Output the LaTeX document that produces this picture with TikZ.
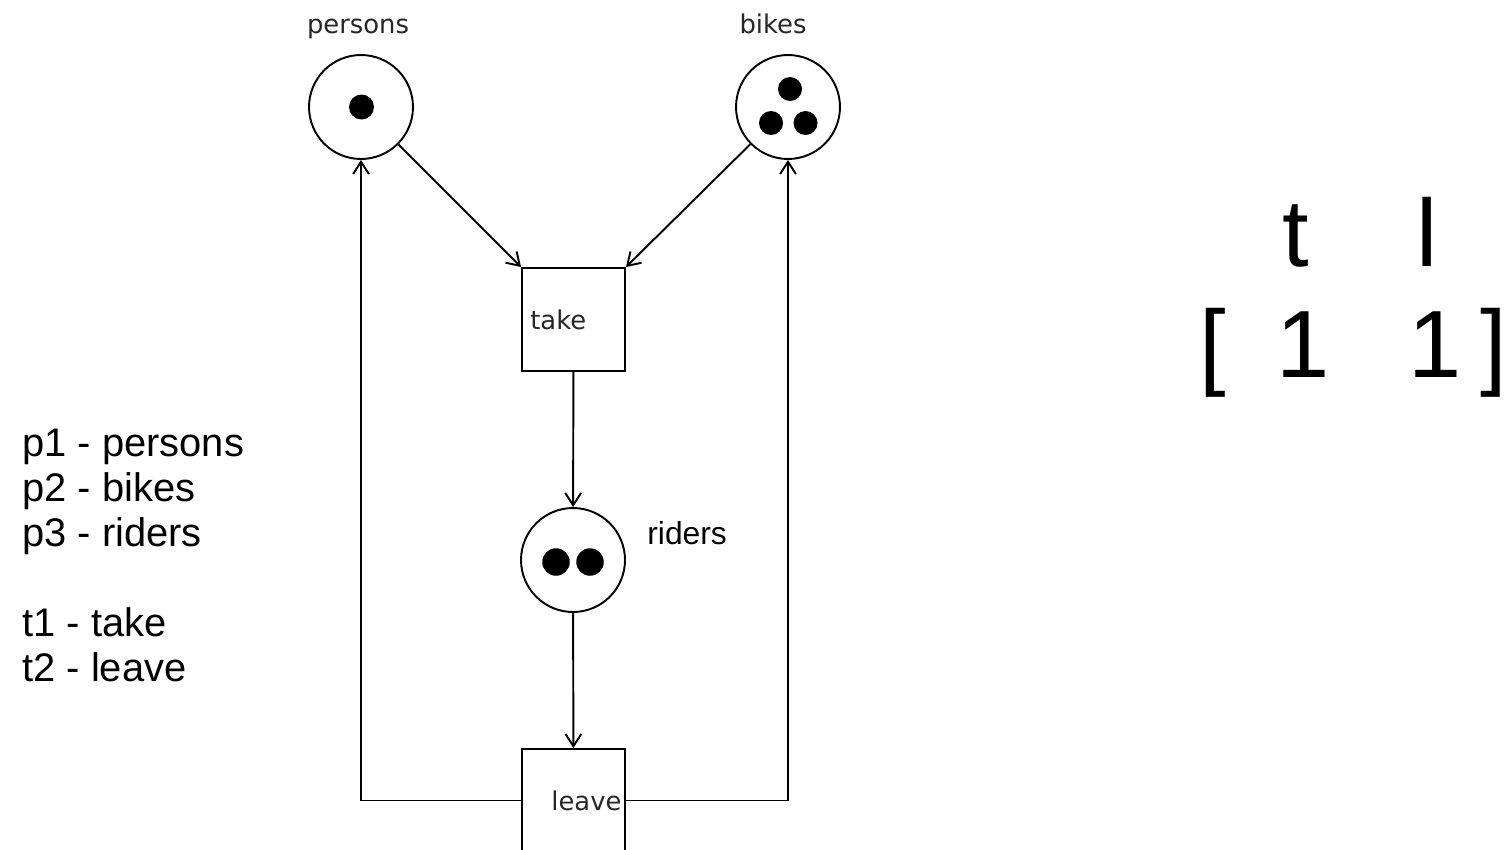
\documentclass[tikz,border=0pt]{standalone}
\usepackage{fontspec}
\setmainfont{Liberation Sans}
\newfontfamily\netfont{DejaVu Sans}
\usepackage{tikz}
\usetikzlibrary{positioning,arrows.meta,shapes.geometric}

\begin{document}
\begin{tikzpicture}[
  x=0.02cm, y=-0.02cm,
  place/.style={circle, draw, line width=1.1pt, minimum size=2.08cm, inner sep=0},
  trans/.style={rectangle, draw, line width=1.1pt, minimum width=2.06cm, minimum height=2.06cm, inner sep=0},
  token/.style={circle, fill=black, inner sep=0, minimum size=0.5cm},
  netlbl/.style={font=\netfont\fontsize{14.7}{16}\selectfont, text=black!85, inner sep=0},
  legend/.style={font=\fontsize{22.7}{25.5}\selectfont, anchor=base west, inner sep=0},
  vec/.style={font=\fontsize{54.4}{60}\selectfont, anchor=base, inner sep=0},
  arrow/.style={-{Straight Barb[length=7pt,width=9pt]}, line width=1.1pt}
]
\clip (0,0) rectangle (1507,849);

% places
\node[place] (persons) at (361,107) {};
\node[place] (bikes) at (788,107) {};
\node[place] (riders) at (573,560) {};

% transitions
\node[trans] (take) at (573.5,319.5) {};
\node[trans] (leave) at (573.5,800.5) {};

% tokens
\node[token] (pt1) at (361.5,107) {};
\node[token, minimum size=0.48cm] (bt1) at (790,89) {};
\node[token, minimum size=0.48cm] (bt2) at (771,123) {};
\node[token, minimum size=0.48cm] (bt3) at (805.5,123) {};
\node[token, minimum size=0.55cm] (rt1) at (556,562) {};
\node[token, minimum size=0.55cm] (rt2) at (590,562) {};

% labels
\node[netlbl, anchor=base] (personslbl) at (358,33) {persons};
\node[netlbl, anchor=base] (bikeslbl) at (773,33) {bikes};
\node[netlbl, anchor=west] (takelbl) at (530,320) {take};
\node[netlbl, anchor=west] (leavelbl) at (551,801) {leave};
\node[font=\fontsize{18.1}{20}\selectfont, anchor=west, inner sep=0] (riderslbl) at (647,533) {riders};

% arcs
\draw[arrow] (persons) -- (take.north west);
\draw[arrow] (bikes) -- (take.north east);
\draw[arrow] (take) -- (riders);
\draw[arrow] (riders) -- (leave);
\draw[arrow] (leave.west) -| (persons.south);
\draw[arrow] (leave.east) -| (bikes.south);

% legend
\node[legend] (lp1) at (22,456) {p1 - persons};
\node[legend] (lp2) at (22,501) {p2 - bikes};
\node[legend] (lp3) at (22,546) {p3 - riders};
\node[legend] (lt1) at (22,636) {t1 - take};
\node[legend] (lt2) at (22,681) {t2 - leave};

% firing vector
\node[vec] (ht) at (1296,266) {t};
\node[vec] (hl) at (1427,266) {l};
\node[vec] (lbr) at (1213,377) {[};
\node[vec] (v1) at (1303,377) {1};
\node[vec] (v2) at (1435,377) {1};
\node[vec, anchor=base east] (rbr) at (1507,377) {]};
\end{tikzpicture}
\end{document}
